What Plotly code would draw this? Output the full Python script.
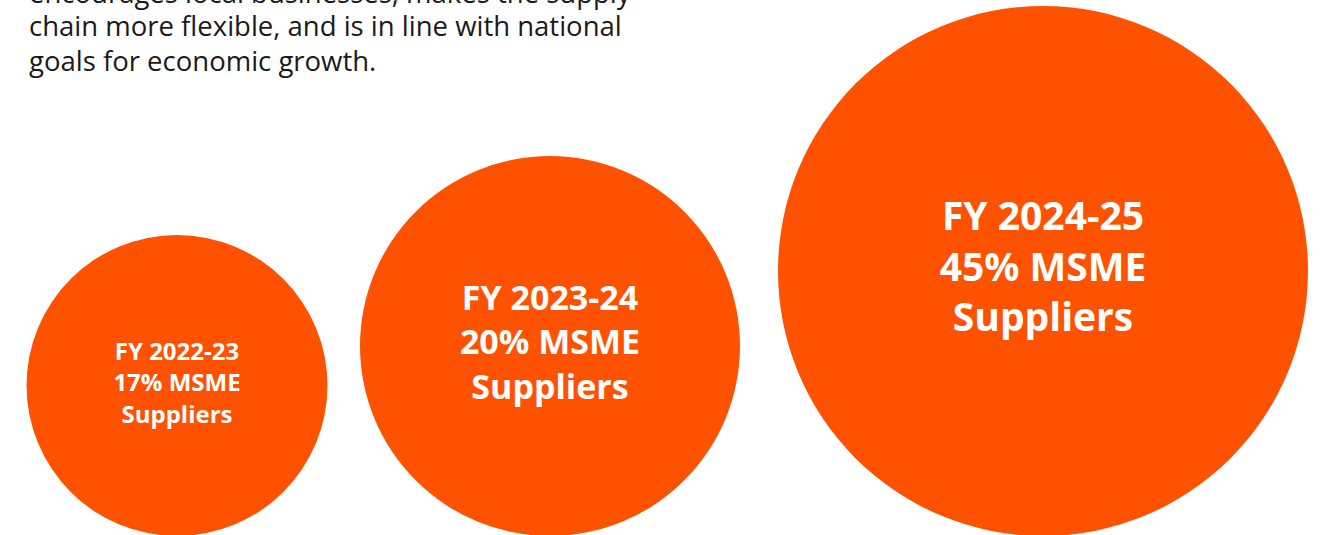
import plotly.graph_objects as go

# MSME supplier share by financial year
years = ["FY 2022-23", "FY 2023-24", "FY 2024-25"]
msme_share = [17, 20, 45]
# bubble diameters (px) and horizontal centres
bubble_diameter = [301, 380, 530]
bubble_x = [177, 550, 1043]
label_size = [24, 34, 39]

intro_lines = [
    "encourages local businesses, makes the supply",
    "chain more flexible, and is in line with national",
    "goals for economic growth.",
]
intro_line_y = [-8, 25, 60]  # vertical centre of each line, px from top

ORANGE = "#FF5200"
W, H = 1320, 535

labels = [f"{y}<br>{s}% MSME<br>Suppliers" for y, s in zip(years, msme_share)]
bubble_y = [d / 2 - 1 for d in bubble_diameter]

fig = go.Figure()

fig.add_trace(go.Scatter(
    x=bubble_x,
    y=bubble_y,
    mode="markers+text",
    text=labels,
    textposition="middle center",
    textfont=dict(family="Open Sans", size=label_size, color="white", weight="bold"),
    marker=dict(
        size=bubble_diameter,
        sizemode="diameter",
        color=ORANGE,
        opacity=1,
        line=dict(width=0),
    ),
    hoverinfo="skip",
    showlegend=False,
))

# intro paragraph, its first line runs off the top edge
for line, ly in zip(intro_lines, intro_line_y):
    fig.add_annotation(
        text=line,
        x=27,
        y=1 - ly / H,
        xref="x", yref="paper",
        xanchor="left", yanchor="middle",
        align="left",
        showarrow=False,
        font=dict(family="Open Sans", size=27.5, color="#1a1a1a"),
    )

fig.update_layout(
    width=W,
    height=H,
    margin=dict(l=0, r=0, t=0, b=0),
    plot_bgcolor="white",
    paper_bgcolor="white",
    xaxis=dict(range=[0, W], visible=False, fixedrange=True),
    yaxis=dict(range=[0, H], visible=False, fixedrange=True),
)

# drop the browser's default body margin so the figure fills the window
fig.write_html(
    "out.html",
    config={"displayModeBar": False},
    post_script="document.body.style.margin = '0';",
)
